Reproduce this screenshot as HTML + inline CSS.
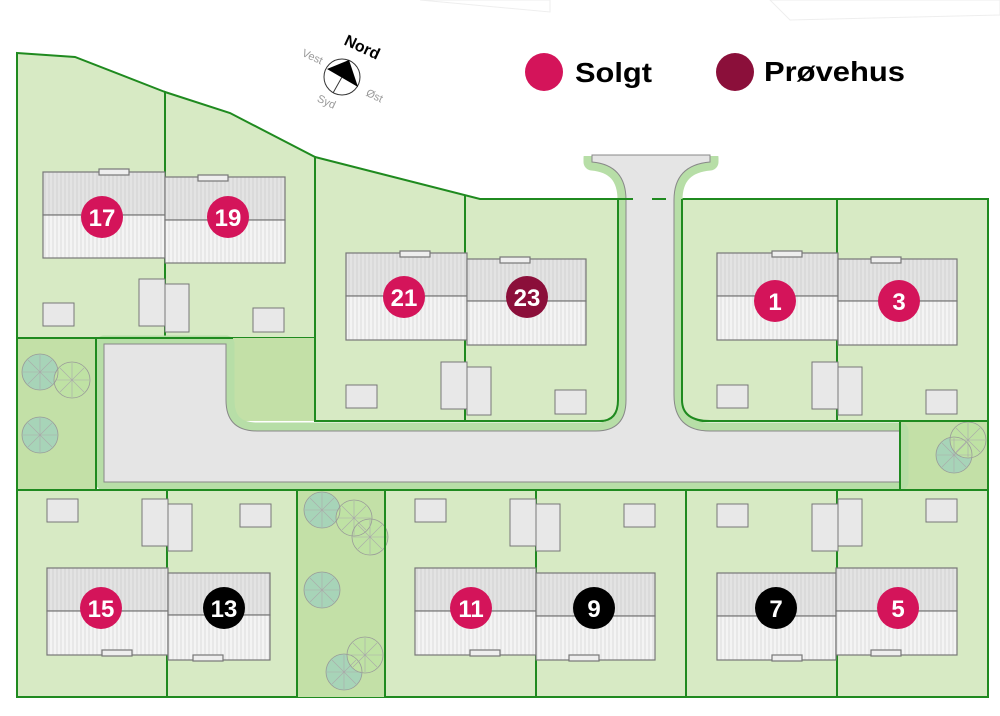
<!DOCTYPE html>
<html><head><meta charset="utf-8"><style>
body{margin:0;background:#fff;width:1000px;height:711px;overflow:hidden;font-family:"Liberation Sans",sans-serif}
</style></head><body>
<svg width="1000" height="711" viewBox="0 0 1000 711" xmlns="http://www.w3.org/2000/svg" font-family="Liberation Sans, sans-serif">
<defs>
<pattern id="st" width="4" height="10" patternUnits="userSpaceOnUse"><rect width="4" height="10" fill="#f4f4f4"/><line x1="1" y1="0" x2="1" y2="10" stroke="#dcdcdc" stroke-width="1"/></pattern>
<pattern id="rt" width="4" height="10" patternUnits="userSpaceOnUse"><rect width="4" height="10" fill="#e3e3e3"/><line x1="1" y1="0" x2="1" y2="10" stroke="#d2d2d2" stroke-width="1"/></pattern>
<g id="tr"><circle r="18" fill="none" stroke="#999" stroke-width="0.8"/><path d="M-17,0H17M0,-17V17M-12,-12L12,12M-12,12L12,-12" stroke="#aaa" stroke-width="0.6"/></g>
</defs>
<path d="M420,0 L550,12 L550,0Z M770,0 L790,20 L1000,15 L1000,0Z" fill="none" stroke="#eee"/>
<!-- plots -->
<g fill="#d7eac4" stroke="#1f8a1f" stroke-width="2">
<path d="M17,53 L75,57 L165,92 L165,338 L17,338Z"/>
<path d="M165,92 L230,113 L315,157 L315,338 L165,338Z"/>
<path d="M315,157 L480,199 L625,199 L625,421 L315,421Z"/>
<path d="M674,199 L988,199 L988,421 L674,421Z"/>
<rect x="17" y="490" width="971" height="207"/>
</g>
<rect x="17" y="338" width="79" height="152" fill="#c3e0a7"/>
<rect x="900" y="421" width="88" height="69" fill="#c3e0a7"/>
<rect x="297" y="490" width="88" height="207" fill="#c3e0a7"/>
<rect x="233" y="338" width="82" height="83" fill="#c3e0a7"/>
<!-- trees -->
<g>
<circle cx="40" cy="372" r="18" fill="#a7d4b8"/><circle cx="72" cy="380" r="18" fill="#bfe2a4"/>
<circle cx="40" cy="435" r="18" fill="#a7d4b8"/>
<circle cx="322" cy="510" r="18" fill="#a7d4b8"/><circle cx="354" cy="518" r="18" fill="#bfe2a4"/><circle cx="370" cy="537" r="18" fill="#bfe2a4"/>
<circle cx="322" cy="590" r="18" fill="#a7d4b8"/>
<circle cx="344" cy="672" r="18" fill="#a7d4b8"/><circle cx="365" cy="655" r="18" fill="#bfe2a4"/>
<circle cx="954" cy="455" r="18" fill="#a7d4b8"/><circle cx="968" cy="440" r="18" fill="#bfe2a4"/>
<use href="#tr" x="40" y="372"/><use href="#tr" x="72" y="380"/><use href="#tr" x="40" y="435"/>
<use href="#tr" x="322" y="510"/><use href="#tr" x="354" y="518"/><use href="#tr" x="370" y="537"/><use href="#tr" x="322" y="590"/><use href="#tr" x="344" y="672"/><use href="#tr" x="365" y="655"/>
<use href="#tr" x="954" y="455"/><use href="#tr" x="968" y="440"/>
</g>
<!-- road -->
<path d="M104,344 H226 V400 Q226,431 257,431 H596 Q626,431 626,400 V200 Q626,165 592,162 V158 H710 V162 Q674,165 674,200 V395 Q674,431 710,431 H900 V482 H104 Z" fill="#b7dea7" stroke="#b7dea7" stroke-width="17" stroke-linejoin="round"/>
<rect x="580" y="140" width="150" height="16" fill="#fff"/>
<path d="M104,344 H226 V400 Q226,431 257,431 H596 Q626,431 626,400 V200 Q626,165 592,162 V155 H710 V162 Q674,165 674,200 V395 Q674,431 710,431 H900 V482 H104 Z" fill="#e5e5e5" stroke="#888" stroke-width="1"/>
<g fill="none" stroke="#1f8a1f" stroke-width="2">
<path d="M17,338 H96 V490"/><path d="M96,338 H233"/><path d="M315,338 V421 H600 Q618,421 618,400 V199"/>
<line x1="615" y1="199" x2="633" y2="199"/><line x1="652" y1="199" x2="666" y2="199"/>
<path d="M682,199 V400 Q682,421 710,421 H988"/>
<line x1="900" y1="421" x2="900" y2="490"/>
<line x1="17" y1="338" x2="17" y2="490"/><line x1="988" y1="421" x2="988" y2="490"/>
<line x1="167" y1="490" x2="167" y2="697"/><line x1="297" y1="490" x2="297" y2="697"/><line x1="385" y1="490" x2="385" y2="697"/><line x1="536" y1="490" x2="536" y2="697"/><line x1="686" y1="490" x2="686" y2="697"/><line x1="837" y1="490" x2="837" y2="697"/>
<line x1="465" y1="196" x2="465" y2="421"/><line x1="837" y1="199" x2="837" y2="421"/>
<line x1="17" y1="490" x2="988" y2="490"/>
</g>
<!-- sheds -->
<g fill="#e8e8e8" stroke="#777" stroke-width="1">
<rect x="43" y="303" width="31" height="23"/><rect x="139" y="279" width="26" height="47"/><rect x="165" y="284" width="24" height="48"/><rect x="253" y="308" width="31" height="24"/>
<rect x="346" y="385" width="31" height="23"/><rect x="441" y="362" width="26" height="47"/><rect x="467" y="367" width="24" height="48"/><rect x="555" y="390" width="31" height="24"/>
<rect x="717" y="385" width="31" height="23"/><rect x="812" y="362" width="26" height="47"/><rect x="838" y="367" width="24" height="48"/><rect x="926" y="390" width="31" height="24"/>
<rect x="47" y="499" width="31" height="23"/><rect x="142" y="499" width="26" height="47"/><rect x="168" y="504" width="24" height="47"/><rect x="240" y="504" width="31" height="23"/>
<rect x="415" y="499" width="31" height="23"/><rect x="510" y="499" width="26" height="47"/><rect x="536" y="504" width="24" height="47"/><rect x="624" y="504" width="31" height="23"/>
<rect x="717" y="504" width="31" height="23"/><rect x="812" y="504" width="26" height="47"/><rect x="838" y="499" width="24" height="47"/><rect x="926" y="499" width="31" height="23"/>
</g>
<!-- houses -->
<g stroke="#777" stroke-width="1.2">
<g><rect x="43" y="172" width="122" height="43" fill="url(#rt)"/><rect x="43" y="215" width="122" height="43" fill="url(#st)"/><rect x="99" y="169" width="30" height="6" fill="#eee"/></g>
<g><rect x="165" y="177" width="120" height="43" fill="url(#rt)"/><rect x="165" y="220" width="120" height="43" fill="url(#st)"/><rect x="198" y="175" width="30" height="6" fill="#eee"/></g>
<g><rect x="346" y="253" width="121" height="43" fill="url(#rt)"/><rect x="346" y="296" width="121" height="44" fill="url(#st)"/><rect x="400" y="251" width="30" height="6" fill="#eee"/></g>
<g><rect x="467" y="259" width="119" height="42" fill="url(#rt)"/><rect x="467" y="301" width="119" height="44" fill="url(#st)"/><rect x="500" y="257" width="30" height="6" fill="#eee"/></g>
<g><rect x="717" y="253" width="121" height="43" fill="url(#rt)"/><rect x="717" y="296" width="121" height="44" fill="url(#st)"/><rect x="772" y="251" width="30" height="6" fill="#eee"/></g>
<g><rect x="838" y="259" width="119" height="42" fill="url(#rt)"/><rect x="838" y="301" width="119" height="44" fill="url(#st)"/><rect x="871" y="257" width="30" height="6" fill="#eee"/></g>
<g><rect x="47" y="568" width="121" height="43" fill="url(#rt)"/><rect x="47" y="611" width="121" height="44" fill="url(#st)"/><rect x="102" y="650" width="30" height="6" fill="#eee"/></g>
<g><rect x="168" y="573" width="102" height="42" fill="url(#rt)"/><rect x="168" y="615" width="102" height="45" fill="url(#st)"/><rect x="193" y="655" width="30" height="6" fill="#eee"/></g>
<g><rect x="415" y="568" width="121" height="43" fill="url(#rt)"/><rect x="415" y="611" width="121" height="44" fill="url(#st)"/><rect x="470" y="650" width="30" height="6" fill="#eee"/></g>
<g><rect x="536" y="573" width="119" height="43" fill="url(#rt)"/><rect x="536" y="616" width="119" height="44" fill="url(#st)"/><rect x="569" y="655" width="30" height="6" fill="#eee"/></g>
<g><rect x="717" y="573" width="119" height="43" fill="url(#rt)"/><rect x="717" y="616" width="119" height="44" fill="url(#st)"/><rect x="772" y="655" width="30" height="6" fill="#eee"/></g>
<g><rect x="836" y="568" width="121" height="43" fill="url(#rt)"/><rect x="836" y="611" width="121" height="44" fill="url(#st)"/><rect x="871" y="650" width="30" height="6" fill="#eee"/></g>
</g>
<!-- labels -->
<g font-weight="bold" font-size="24" fill="#fff" text-anchor="middle">
<circle cx="102" cy="217" r="21" fill="#d4145a"/><text x="102" y="226">17</text>
<circle cx="228" cy="217" r="21" fill="#d4145a"/><text x="228" y="226">19</text>
<circle cx="404" cy="297" r="21" fill="#d4145a"/><text x="404" y="306">21</text>
<circle cx="527" cy="297" r="21" fill="#8b0f3a"/><text x="527" y="306">23</text>
<circle cx="775" cy="301" r="21" fill="#d4145a"/><text x="775" y="310">1</text>
<circle cx="899" cy="301" r="21" fill="#d4145a"/><text x="899" y="310">3</text>
<circle cx="101" cy="608" r="21" fill="#d4145a"/><text x="101" y="617">15</text>
<circle cx="224" cy="608" r="21" fill="#000"/><text x="224" y="617">13</text>
<circle cx="471" cy="608" r="21" fill="#d4145a"/><text x="471" y="617">11</text>
<circle cx="594" cy="608" r="21" fill="#000"/><text x="594" y="617">9</text>
<circle cx="776" cy="608" r="21" fill="#000"/><text x="776" y="617">7</text>
<circle cx="898" cy="608" r="21" fill="#d4145a"/><text x="898" y="617">5</text>
</g>
<!-- legend -->
<circle cx="544" cy="72" r="19" fill="#d4145a"/>
<text x="575" y="82" font-size="28" font-weight="bold" textLength="77" lengthAdjust="spacingAndGlyphs">Solgt</text>
<circle cx="735" cy="72" r="19" fill="#8b0f3a"/>
<text x="764" y="81" font-size="28" font-weight="bold" textLength="141" lengthAdjust="spacingAndGlyphs">Prøvehus</text>
<!-- compass -->
<circle cx="342" cy="77" r="18" fill="#fff" stroke="#333"/>
<path d="M327,69 L349,60 L358,87Z" fill="#000"/>
<line x1="342" y1="77" x2="333" y2="93" stroke="#333"/>
<text x="360" y="52" font-size="16" font-weight="bold" transform="rotate(25 360 52)" text-anchor="middle">Nord</text>
<text x="311" y="60" font-size="11" fill="#999" transform="rotate(25 311 60)" text-anchor="middle">Vest</text>
<text x="373" y="99" font-size="11" fill="#999" transform="rotate(25 373 99)" text-anchor="middle">Øst</text>
<text x="325" y="105" font-size="11" fill="#999" transform="rotate(25 325 105)" text-anchor="middle">Syd</text>
</svg>
</body></html>
